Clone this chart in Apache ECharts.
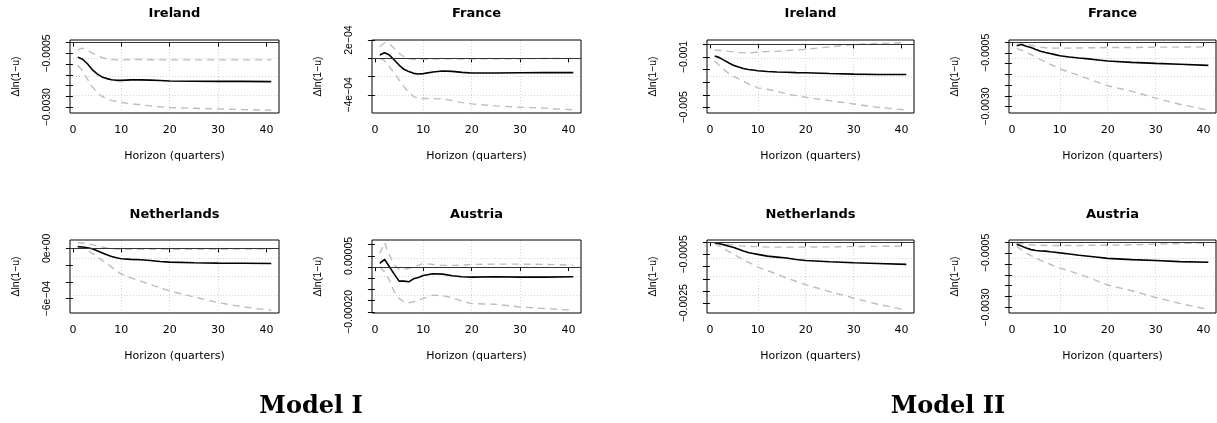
<!DOCTYPE html>
<html>
<head>
<meta charset="utf-8">
<script src="https://cdn.jsdelivr.net/npm/echarts@6/dist/echarts.min.js"></script>
<style>
html, body { margin: 0; padding: 0; background: #fff; }
#main { width: 1217px; height: 423px; }
</style>
</head>
<body>
<div id="main"></div>
<script>
// horizons (quarters)
var horizon = [1, 2, 3, 4, 5, 6, 7, 8, 9, 10, 12, 14, 16, 18, 20, 25, 30, 35, 41];
var xTicks = [0, 10, 20, 30, 40];

// Model I - Ireland
var irl1Mid = [-0.00067,-0.00077,-0.00098,-0.00125,-0.00145,-0.00159,-0.00167,-0.00172,-0.00175,-0.00175,-0.00173,-0.00173,-0.00174,-0.00176,-0.00178,-0.00179,-0.0018,-0.0018,-0.00181];
var irl1Up = [-0.00033,-0.00025,-0.00036,-0.00048,-0.00059,-0.00069,-0.00075,-0.00078,-0.0008,-0.0008,-0.00078,-0.00078,-0.00079,-0.0008,-0.0008,-0.0008,-0.0008,-0.0008,-0.0008];
var irl1Lo = [-0.00106,-0.0013,-0.00169,-0.00205,-0.00231,-0.0025,-0.00261,-0.00269,-0.00273,-0.00278,-0.00284,-0.00289,-0.00294,-0.00298,-0.00302,-0.00305,-0.00308,-0.00311,-0.00314];
var irl1Ticks = [0,-0.0005,-0.001,-0.0015,-0.002,-0.0025,-0.003];
var irl1LabelAt = [-0.0005,-0.003];
var irl1Labels = ['\u22120.0005','\u22120.0030'];

// Model I - France
var fra1Mid = [0.000036,0.000062,0.000036,-0.000018,-0.000073,-0.00012,-0.000145,-0.000164,-0.000171,-0.000167,-0.000149,-0.000138,-0.000142,-0.000153,-0.00016,-0.00016,-0.000158,-0.000156,-0.000156];
var fra1Up = [0.000127,0.000171,0.000156,0.000109,0.000055,0.000018,-0.000004,-0.000011,-0.000015,-0.000011,-0.000007,-0.000004,-0.000004,-0.000007,-0.000007,-0.000004,-0.000004,-0.000002,0];
var fra1Lo = [0,-0.000025,-0.000091,-0.000164,-0.000236,-0.000309,-0.000375,-0.000418,-0.000436,-0.00044,-0.00044,-0.000444,-0.000462,-0.000484,-0.000498,-0.00052,-0.000535,-0.000545,-0.000564];
var fra1Ticks = [0.0002,0,-0.0002,-0.0004];
var fra1LabelAt = [0.0002,-0.0004];
var fra1Labels = ['2e\u221204','\u22124e\u221204'];

// Model I - Netherlands
var ned1Mid = [0.00002,0.000016,0.000008,-0.000004,-0.000028,-0.000052,-0.000076,-0.000096,-0.000112,-0.000124,-0.000132,-0.000136,-0.000144,-0.000156,-0.000164,-0.000172,-0.000176,-0.000178,-0.00018];
var ned1Up = [0.000068,0.000064,0.000056,0.000044,0.000028,0.000016,0.000004,-0.000004,-0.000008,-0.000012,-0.000012,-0.000012,-0.000012,-0.000012,-0.000012,-0.000012,-0.00001,-0.000008,-0.000008];
var ned1Lo = [0.000028,0.000008,-0.00002,-0.00006,-0.0001,-0.00014,-0.00018,-0.000224,-0.000268,-0.000308,-0.000352,-0.000392,-0.000432,-0.000472,-0.000508,-0.00058,-0.000648,-0.000696,-0.00074];
var ned1Ticks = [0,-0.0002,-0.0004,-0.0006];
var ned1LabelAt = [0,-0.0006];
var ned1Labels = ['0e+00','\u22126e\u221204'];

// Model I - Austria
var aut1Mid = [0.0000164,0.0000343,0.0000015,-0.0000313,-0.0000627,-0.0000627,-0.0000657,-0.0000522,-0.0000463,-0.0000373,-0.0000299,-0.0000313,-0.0000388,-0.0000433,-0.0000448,-0.0000433,-0.0000448,-0.0000448,-0.0000433];
var aut1Up = [0.0000612,0.000109,0.0000537,0.000009,-0.000009,-0.000009,-0.000006,0.0000015,0.000009,0.0000164,0.0000119,0.0000075,0.0000075,0.000009,0.0000119,0.0000134,0.0000134,0.0000119,0.000009];
var aut1Lo = [0.0000015,-0.0000209,-0.0000582,-0.00011,-0.00014,-0.000155,-0.00016,-0.000155,-0.000148,-0.00014,-0.000125,-0.000128,-0.000137,-0.000152,-0.000163,-0.000166,-0.000178,-0.000185,-0.000193];
var aut1Ticks = [0.0001,0.00005,0,-0.00005,-0.0001,-0.00015,-0.0002];
var aut1LabelAt = [0.00005,-0.0002];
var aut1Labels = ['0.00005','\u22120.00020'];

// Model II - Ireland
var irl2Mid = [-0.00092,-0.00105,-0.00127,-0.00148,-0.00167,-0.0018,-0.00191,-0.00199,-0.00204,-0.00209,-0.00215,-0.00219,-0.00221,-0.00224,-0.00225,-0.00231,-0.00236,-0.00239,-0.00239];
var irl2Up = [-0.00047,-0.00047,-0.00049,-0.00055,-0.0006,-0.00064,-0.00067,-0.00068,-0.00065,-0.0006,-0.00057,-0.00055,-0.00049,-0.00044,-0.00039,-0.0002,-0.00001,0.00007,0.00015];
var irl2Lo = [-0.00132,-0.00167,-0.00201,-0.00233,-0.00255,-0.00273,-0.00292,-0.00313,-0.00327,-0.00345,-0.00356,-0.00372,-0.00393,-0.00407,-0.0042,-0.00447,-0.00473,-0.005,-0.00521];
var irl2Ticks = [0,-0.001,-0.002,-0.003,-0.004,-0.005];
var irl2LabelAt = [-0.001,-0.005];
var irl2Labels = ['\u22120.001','\u22120.005'];

// Model II - France
var fra2Mid = [-0.00017,-0.00011,-0.00019,-0.00025,-0.00034,-0.00042,-0.00048,-0.00053,-0.00058,-0.00063,-0.00069,-0.00074,-0.00078,-0.00083,-0.00088,-0.00094,-0.00099,-0.00103,-0.00108];
var fra2Up = [-0.00003,-0.00003,-0.00009,-0.00014,-0.00019,-0.00023,-0.00026,-0.00027,-0.00028,-0.00028,-0.00028,-0.00027,-0.00026,-0.00026,-0.00025,-0.00025,-0.00023,-0.00023,-0.00022];
var fra2Lo = [-0.0003,-0.00037,-0.00048,-0.00058,-0.00069,-0.00081,-0.00092,-0.00103,-0.00113,-0.00124,-0.0014,-0.00155,-0.00171,-0.00187,-0.00203,-0.00229,-0.00261,-0.00289,-0.00317];
var fra2Ticks = [0,-0.0005,-0.001,-0.0015,-0.002,-0.0025,-0.003];
var fra2LabelAt = [-0.0005,-0.003];
var fra2Labels = ['\u22120.0005','\u22120.0030'];

// Model II - Netherlands
var ned2Mid = [-0.00002,-0.00006,-0.00011,-0.00017,-0.00022,-0.00029,-0.00036,-0.00042,-0.00046,-0.0005,-0.00057,-0.00061,-0.00065,-0.00071,-0.00075,-0.0008,-0.00084,-0.00087,-0.00091];
var ned2Up = [-0.00002,-0.00003,-0.00006,-0.00009,-0.00011,-0.00014,-0.00016,-0.00017,-0.00018,-0.00018,-0.0002,-0.0002,-0.0002,-0.0002,-0.0002,-0.00019,-0.00018,-0.00017,-0.00016];
var ned2Lo = [-0.00006,-0.00016,-0.00027,-0.00039,-0.0005,-0.00061,-0.00071,-0.00082,-0.00091,-0.00102,-0.00116,-0.00131,-0.00147,-0.0016,-0.00174,-0.00202,-0.00229,-0.00254,-0.00278];
var ned2Ticks = [0,-0.0005,-0.001,-0.0015,-0.002,-0.0025];
var ned2LabelAt = [-0.0005,-0.0025];
var ned2Labels = ['\u22120.0005','\u22120.0025'];

// Model II - Austria
var aut2Mid = [-0.00011,-0.00019,-0.00028,-0.00035,-0.00039,-0.00041,-0.00042,-0.00045,-0.00047,-0.0005,-0.00055,-0.00061,-0.00065,-0.0007,-0.00075,-0.00081,-0.00085,-0.0009,-0.00093];
var aut2Up = [-0.00004,-0.00007,-0.00011,-0.00013,-0.00015,-0.00015,-0.00016,-0.00016,-0.00016,-0.00016,-0.00016,-0.00016,-0.00015,-0.00015,-0.00015,-0.00013,-0.0001,-0.00007,-0.00004];
var aut2Lo = [-0.00019,-0.00035,-0.0005,-0.00062,-0.00073,-0.00084,-0.00093,-0.00102,-0.00112,-0.00119,-0.00133,-0.00147,-0.00163,-0.0018,-0.00197,-0.00223,-0.00254,-0.00281,-0.00309];
var aut2Ticks = [0,-0.0005,-0.001,-0.0015,-0.002,-0.0025,-0.003];
var aut2LabelAt = [-0.0005,-0.003];
var aut2Labels = ['\u22120.0005','\u22120.0030'];

var panels = [
	{ title: 'Ireland', mid: irl1Mid, up: irl1Up, lo: irl1Lo, ticks: irl1Ticks, at: irl1LabelAt, labels: irl1Labels, ymin: -0.00327, ymax: 0.000126, col: 0, row: 0 },
	{ title: 'France', mid: fra1Mid, up: fra1Up, lo: fra1Lo, ticks: fra1Ticks, at: fra1LabelAt, labels: fra1Labels, ymin: -0.000598, ymax: 0.000201, col: 1, row: 0 },
	{ title: 'Netherlands', mid: ned1Mid, up: ned1Up, lo: ned1Lo, ticks: ned1Ticks, at: ned1LabelAt, labels: ned1Labels, ymin: -0.000772, ymax: 0.0001, col: 0, row: 1 },
	{ title: 'Austria', mid: aut1Mid, up: aut1Up, lo: aut1Lo, ticks: aut1Ticks, at: aut1LabelAt, labels: aut1Labels, ymin: -0.000205, ymax: 0.000121, col: 1, row: 1 },
	{ title: 'Ireland', mid: irl2Mid, up: irl2Up, lo: irl2Lo, ticks: irl2Ticks, at: irl2LabelAt, labels: irl2Labels, ymin: -0.00545, ymax: 0.00035, col: 2, row: 0 },
	{ title: 'France', mid: fra2Mid, up: fra2Up, lo: fra2Lo, ticks: fra2Ticks, at: fra2LabelAt, labels: fra2Labels, ymin: -0.0033, ymax: 0.0001, col: 3, row: 0 },
	{ title: 'Netherlands', mid: ned2Mid, up: ned2Up, lo: ned2Lo, ticks: ned2Ticks, at: ned2LabelAt, labels: ned2Labels, ymin: -0.0029, ymax: 0.00009, col: 2, row: 1 },
	{ title: 'Austria', mid: aut2Mid, up: aut2Up, lo: aut2Lo, ticks: aut2Ticks, at: aut2LabelAt, labels: aut2Labels, ymin: -0.00325, ymax: 0.00009, col: 3, row: 1 }
];

// layout of the plot boxes (px)
var colLeft = [70, 372, 707, 1009];
var colWidth = [209, 209, 207, 207];
var rowTop = [40, 240];
var boxHeight = 73;
var titleY = [14, 215];

var sans = 'DejaVu Sans';
var rsans = 'Liberation Sans';

function pairs(ys) {
	var out = [];
	for (var i = 0; i < horizon.length; i++) {
		out.push([horizon[i], ys[i]]);
	}
	return out;
}

var chart = echarts.init(document.getElementById('main'));
var grids = [], xAxes = [], yAxes = [], series = [], titles = [];
var gridLine = { color: '#d3d3d3', type: [1, 2], width: 1 };

panels.forEach(function (p, i) {
	var left = colLeft[p.col], w = colWidth[p.col], top = rowTop[p.row];
	grids.push({
		left: left, top: top, width: w, height: boxHeight,
		show: true, borderColor: '#000', borderWidth: 1, backgroundColor: 'transparent', z: 5
	});
	titles.push({
		text: p.title, left: left + w / 2, top: titleY[p.row],
		textAlign: 'center', textVerticalAlign: 'middle', padding: 0,
		textStyle: { fontFamily: sans, fontWeight: 'bold', fontSize: 13, color: '#000' }
	});
	xAxes.push({
		type: 'value', gridIndex: i, min: -0.6, max: 42.6,
		axisLine: { show: false },
		axisTick: { show: true, customValues: xTicks, length: 4, lineStyle: { color: '#000' } },
		axisLabel: { customValues: xTicks, margin: 12, fontFamily: sans, fontSize: 11, color: '#000' },
		splitLine: { show: true, showMinLine: false, showMaxLine: false, lineStyle: gridLine },
		name: 'Horizon (quarters)', nameLocation: 'middle', nameGap: 38,
		nameTextStyle: { fontFamily: sans, fontSize: 11, color: '#000' }
	});
	var at = p.at, labels = p.labels;
	yAxes.push({
		type: 'value', gridIndex: i, min: p.ymin, max: p.ymax, position: 'left',
		axisLine: { show: false },
		axisTick: { show: true, customValues: p.ticks, length: 7, lineStyle: { color: '#000' } },
		axisLabel: {
			customValues: at, rotate: 90, margin: 17,
			fontFamily: rsans, fontSize: 10.5, color: '#000',
			formatter: function (v) {
				for (var k = 0; k < at.length; k++) {
					if (Math.abs(at[k] - v) < 1e-12) return labels[k];
				}
				return '';
			}
		},
		splitLine: { show: false },
		name: '\u0394ln(1\u2212u)', nameLocation: 'middle', nameGap: 48,
		nameTextStyle: { fontFamily: rsans, fontSize: 10.5, color: '#000' }
	});
	// second axis only for the horizontal grid at quarters of the box
	yAxes.push({
		type: 'value', gridIndex: i, min: 0, max: 4, interval: 1, position: 'right',
		axisLine: { show: false }, axisTick: { show: false }, axisLabel: { show: false },
		splitLine: { show: true, showMinLine: false, showMaxLine: false, lineStyle: gridLine }
	});
	var yIdx = yAxes.length - 2;
	var dashStyle = { color: '#bdbdbd', width: 1.4, type: [7, 5] };
	series.push({
		type: 'line', xAxisIndex: i, yAxisIndex: yIdx, data: pairs(p.up),
		showSymbol: false, symbol: 'none', lineStyle: dashStyle, silent: true, z: 2
	});
	series.push({
		type: 'line', xAxisIndex: i, yAxisIndex: yIdx, data: pairs(p.lo),
		showSymbol: false, symbol: 'none', lineStyle: dashStyle, silent: true, z: 2
	});
	series.push({
		type: 'line', xAxisIndex: i, yAxisIndex: yIdx, data: pairs(p.mid),
		showSymbol: false, symbol: 'none', lineStyle: { color: '#000', width: 1.6 }, silent: true, z: 3,
		markLine: {
			silent: true, symbol: ['none', 'none'], label: { show: false },
			lineStyle: { color: '#333', width: 1, type: 'solid' },
			data: [{ yAxis: 0 }]
		}
	});
});

titles.push({
	text: 'Model I', left: 311, top: 407, textAlign: 'center', textVerticalAlign: 'middle', padding: 0,
	textStyle: { fontFamily: 'DejaVu Serif', fontWeight: 'bold', fontSize: 24, color: '#000' }
});
titles.push({
	text: 'Model II', left: 948, top: 407, textAlign: 'center', textVerticalAlign: 'middle', padding: 0,
	textStyle: { fontFamily: 'DejaVu Serif', fontWeight: 'bold', fontSize: 24, color: '#000' }
});

chart.setOption({
	backgroundColor: '#fff',
	animation: false,
	title: titles,
	grid: grids,
	xAxis: xAxes,
	yAxis: yAxes,
	series: series
});
</script>
</body>
</html>
